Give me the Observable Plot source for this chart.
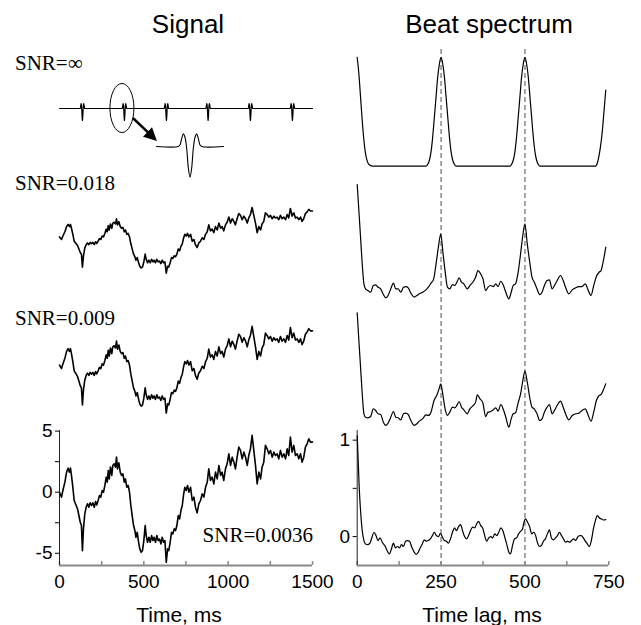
<!DOCTYPE html>
<html><head><meta charset="utf-8">
<script src="https://cdn.jsdelivr.net/npm/d3@7"></script>
<script src="https://cdn.jsdelivr.net/npm/@observablehq/plot@0.6"></script>
<style>
body{margin:0;background:#fff}
#fig{position:relative;width:641px;height:625px;overflow:hidden;background:#fff}
#fig svg{position:absolute;overflow:visible}
.t{position:absolute;white-space:nowrap;line-height:1;color:#000}
.sans{font-family:"Liberation Sans",Arial,sans-serif}
.serif{font-family:"Liberation Serif","Times New Roman",serif}
</style></head><body><div id="fig"></div>
<script>
// ---------- data ----------
const panelTitles = ["Signal", "Beat spectrum"];
const axisLabels = ["Time, ms", "Time lag, ms"];
const snrLabels = ["SNR=\u221E", "SNR=0.018", "SNR=0.009", "SNR=0.0036"];

const timeTicks = [0, 500, 1000, 1500];
const timeMinor = [0, 250, 500, 750, 1000, 1250, 1500];
const sigYTicks = [-5, -2.5, 0, 2.5, 5];
const lagTicks = [0, 250, 500, 750];
const lagMinor = [0, 125, 250, 375, 500, 625, 750];
const beatYTicks = [0, 0.5, 1];
const beatPeriods = [250, 500];

// clean spike train (SNR = infinity)
const spikeTimes = [136, 385, 634, 881, 1132, 1381];
const waveT = [-14, -12, -10, -8, -6, -4, -2, 0, 2, 4, 6, 8, 10, 12, 14];
const waveV = [0, 0.05, 0.25, 0.41, 0.3, -0.05, -0.7, -1, -0.7, -0.05, 0.3, 0.41, 0.25, 0.05, 0];
const circledSpike = 373;

// noisy signal (time ms, value)
const signalNoisy = [
[0,0],[12,-0.41],[20,0.14],[32,0.82],[42,1.64],[51,1.97],[59,1.64],[65,1.97],[71,1.37],[79,0.41],
[87,-0.68],[99,-1.09],[107,-1.37],[115,-1.91],[123,-2.46],[130,-2.73],[136,-4.78],[142,-3.0],[150,-1.77],[158,-1.23],
[166,-0.95],[174,-1.23],[182,-0.87],[190,-1.09],[198,-0.87],[206,-1.23],[214,-0.77],[221,-1.04],[229,-0.68],[237,-0.27],
[245,-0.41],[253,0.14],[261,0],[269,0.55],[277,1.23],[283,0.82],[289,1.78],[295,1.09],[302,2.05],[310,1.37],
[316,2.19],[324,2.32],[332,2.05],[338,2.87],[344,1.91],[352,2.41],[360,1.64],[368,1.37],[376,1.5],[384,0.82],
[391,1.09],[399,0.41],[407,0.55],[415,0],[423,-1.09],[431,-1.91],[439,-2.73],[447,-3.14],[453,-3.69],[461,-3.28],
[469,-4.1],[476,-4.64],[484,-4.92],[492,-4.78],[500,-3.96],[508,-2.73],[514,-3.55],[522,-4.1],[530,-3.69],[538,-4.1],
[546,-3.55],[554,-3.96],[561,-3.69],[569,-4.1],[577,-3.55],[585,-3.96],[593,-3.83],[601,-4.23],[609,-3.69],[617,-4.1],
[625,-3.96],[633,-5.74],[641,-4.64],[648,-4.78],[656,-4.1],[664,-3.28],[672,-3.42],[680,-3.0],[688,-3.14],[696,-2.73],
[704,-1.91],[712,-2.19],[720,-1.5],[728,-1.09],[735,-0.27],[743,0.41],[751,0.14],[759,0.55],[767,0.0],[777,0.41],
[787,-0.68],[797,-0.41],[806,-1.23],[816,-1.69],[826,-0.95],[836,-0.68],[846,-0.14],[856,-0.41],[866,0.41],[876,0.82],
[885,1.91],[895,0.96],[905,1.23],[915,0.68],[925,1.64],[935,1.09],[945,2.19],[955,1.37],[964,1.64],[974,0.96],
[984,1.91],[994,2.32],[1004,3.14],[1014,2.19],[1024,2.87],[1034,2.46],[1043,1.91],[1053,2.87],[1063,3.69],[1073,3.42],
[1083,2.73],[1093,3.28],[1103,2.87],[1113,2.19],[1122,3.0],[1132,3.55],[1142,4.65],[1152,3.42],[1162,2.19],[1172,0.68],
[1182,1.64],[1192,1.09],[1201,2.05],[1211,2.46],[1221,3.83],[1231,3.55],[1241,3.14],[1251,3.42],[1261,2.87],[1271,3.28],
[1280,3.0],[1290,3.14],[1300,2.73],[1310,3.42],[1320,2.87],[1330,3.14],[1340,2.73],[1350,3.55],[1359,3.0],[1369,4.51],
[1379,3.28],[1389,3.83],[1399,3.0],[1409,3.14],[1419,2.73],[1429,3.14],[1438,2.46],[1448,2.87],[1458,3.69],[1468,3.96],
[1478,4.37],[1488,4.1],[1500,4.1]
];

// beat spectra (lag ms, value)
const beatInf = [
[0,1],[5,0.85],[10,0.635],[15,0.42],[20,0.236],[25,0.113],[30,0.046],[35,0.015],[45,0],[205,0],
[210,0.015],[215,0.052],[220,0.129],[225,0.267],[230,0.45],[235,0.635],[240,0.82],[245,0.94],[250,1],[255,0.94],
[260,0.82],[265,0.635],[270,0.45],[275,0.267],[280,0.129],[285,0.052],[290,0.015],[295,0],[455,0],[460,0.015],
[465,0.052],[470,0.129],[475,0.267],[480,0.45],[485,0.635],[490,0.82],[495,0.94],[500,1],[505,0.94],[510,0.82],
[515,0.635],[520,0.45],[525,0.267],[530,0.129],[535,0.052],[540,0.015],[545,0],[710,0],[715,0.02],[720,0.083],
[725,0.175],[730,0.3],[735,0.48],[741,0.70]
];
const beat018 = [
[0,1.0],[5,0.73],[10,0.457],[15,0.18],[20,-0.024],[25,-0.076],[32,-0.093],[40,-0.11],[48,-0.04],[55,-0.034],
[62,-0.058],[70,-0.076],[78,-0.134],[85,-0.168],[92,-0.144],[100,-0.076],[108,-0.017],[115,-0.076],[122,-0.076],[130,-0.11],
[138,-0.058],[145,-0.052],[152,-0.065],[160,-0.12],[170,-0.16],[178,-0.144],[185,-0.127],[195,-0.11],[205,-0.086],[212,-0.058],
[220,-0.017],[228,0.027],[235,0.18],[242,0.354],[249,0.49],[256,0.285],[263,0.079],[269,-0.058],[276,-0.076],[284,-0.031],
[291,-0.041],[297,-0.007],[304,0.038],[311,-0.007],[318,-0.024],[328,-0.076],[336,-0.041],[346,0],[353,0.045],[360,0.113],
[368,0.079],[375,0.027],[383,-0.093],[390,-0.058],[398,-0.041],[406,-0.052],[413,-0.024],[420,-0.052],[428,0.003],[436,-0.041],
[443,-0.11],[452,-0.179],[459,-0.11],[465,-0.041],[472,-0.024],[479,0.079],[487,0.285],[493,0.457],[500,0.594],[507,0.388],
[515,0.182],[521,0.045],[528,-0.007],[536,-0.076],[544,-0.134],[551,-0.11],[558,-0.041],[566,0.01],[573,0.017],[581,-0.076],
[588,-0.041],[596,0.01],[606,0.062],[614,0.01],[621,-0.058],[631,-0.127],[641,-0.086],[651,-0.065],[661,-0.052],[670,-0.052],
[680,-0.024],[687,-0.076],[697,-0.144],[705,-0.041],[713,0.052],[721,0.096],[727,0.113],[733,0.2],[741,0.354]
];
const beat009 = [
[0,1.0],[5,0.715],[10,0.44],[15,0.165],[20,-0.041],[25,-0.076],[32,-0.082],[40,-0.069],[48,0.01],[55,-0.007],
[62,-0.041],[70,-0.048],[78,-0.127],[85,-0.16],[92,-0.137],[100,-0.076],[108,-0.017],[115,-0.076],[122,-0.082],[130,-0.103],
[138,-0.041],[145,-0.034],[152,-0.048],[160,-0.11],[170,-0.16],[178,-0.144],[185,-0.117],[195,-0.093],[205,-0.052],[212,-0.058],
[220,-0.024],[229,0.096],[237,0.148],[244,0.216],[249,0.268],[255,0.165],[261,0.027],[269,-0.058],[276,-0.024],[284,0.027],
[291,0.021],[297,0.045],[304,0.086],[311,0.027],[318,0],[328,-0.041],[336,0.01],[346,0.045],[353,0.079],[358,0.155],
[366,0.113],[374,0.079],[383,-0.069],[390,-0.024],[398,-0.017],[406,0],[413,0.021],[420,-0.014],[428,0.055],[436,0],
[443,-0.076],[452,-0.179],[459,-0.093],[465,-0.041],[472,-0.031],[479,0.062],[487,0.165],[493,0.285],[500,0.399],[507,0.285],
[515,0.113],[521,0.027],[528,0.01],[536,-0.041],[544,-0.11],[551,-0.093],[558,-0.024],[566,0.027],[573,0.055],[581,-0.041],
[588,-0.007],[596,0.045],[606,0.089],[614,0.027],[621,-0.041],[631,-0.103],[641,-0.058],[651,-0.041],[661,-0.034],[670,-0.007],
[680,0.01],[687,-0.041],[697,-0.117],[705,-0.024],[713,0.096],[721,0.148],[727,0.158],[733,0.2],[741,0.268]
];
const beat0036 = [
[0,1.045],[3,0.786],[6,0.51],[10,0.27],[15,0.062],[20,-0.041],[25,-0.076],[32,-0.083],[38,-0.069],[44,-0.007],
[50,0.045],[56,0.01],[62,-0.041],[68,-0.014],[75,-0.059],[82,-0.093],[90,-0.152],[96,-0.179],[102,-0.128],[108,-0.069],
[114,-0.117],[120,-0.103],[126,-0.117],[132,-0.083],[138,-0.103],[144,-0.048],[150,-0.041],[156,-0.048],[162,-0.103],[170,-0.162],
[176,-0.186],[182,-0.162],[188,-0.117],[194,-0.076],[200,-0.034],[206,-0.048],[212,-0.041],[218,-0.024],[224,0.01],[230,0.045],
[236,0.01],[242,0],[248,0.034],[254,-0.007],[260,-0.041],[266,-0.048],[272,-0.069],[278,-0.024],[284,0.045],[290,0.09],
[296,0.062],[302,0.103],[308,0.124],[314,0.062],[320,0],[326,-0.024],[332,0.01],[338,0.062],[344,0.097],[350,0.09],
[356,0.131],[362,0.159],[368,0.114],[374,0.09],[380,0.01],[386,-0.048],[392,-0.014],[398,0],[404,-0.014],[410,0.028],
[416,0.01],[422,0.045],[428,0.09],[434,0.062],[440,-0.007],[446,-0.083],[452,-0.162],[457,-0.179],[463,-0.093],[469,-0.024],
[475,-0.014],[481,0.028],[487,0.055],[493,0.079],[496,0.131],[502,0.183],[508,0.148],[514,0.103],[520,0.028],[526,0.045],
[532,0.01],[537,-0.059],[543,-0.103],[549,-0.093],[555,-0.048],[561,-0.024],[567,0.028],[573,0.069],[579,-0.014],[585,-0.034],
[591,-0.014],[597,0.01],[603,0.045],[609,0.01],[615,-0.024],[621,-0.059],[627,-0.048],[633,-0.059],[639,-0.041],[645,-0.024],
[651,-0.041],[657,-0.007],[663,0.01],[668,0.01],[674,-0.014],[680,-0.048],[686,-0.076],[692,-0.103],[698,-0.041],[704,0.079],
[710,0.166],[716,0.217],[722,0.193],[728,0.183],[734,0.172],[741,0.176]
];

// ---------- layout helpers ----------
const fig = document.getElementById("fig");
const FONT = '"Liberation Sans", Arial, sans-serif';
function opts(w, h, [mt, mr, mb, ml]) {
  return {width: w, height: h, marginTop: mt, marginRight: mr, marginBottom: mb, marginLeft: ml,
    style: {background: "transparent", fontFamily: FONT, fontSize: "19px", color: "#000", overflow: "visible"}};
}
function place(svg, left, top) {
  svg.style.position = "absolute"; svg.style.left = left + "px"; svg.style.top = top + "px";
  svg.style.maxWidth = "none";
  fig.appendChild(svg); return svg;
}
function text(str, cls, size, left, top, align) {
  const d = document.createElement("div");
  d.className = "t " + cls; d.textContent = str;
  d.style.fontSize = size + "px"; d.style.left = left + "px"; d.style.top = top + "px";
  if (align === "middle") d.style.transform = "translateX(-50%)";
  if (align === "end") d.style.transform = "translateX(-100%)";
  fig.appendChild(d);
}
const X = d => d[0], Y = d => d[1];
const LEFT_M = [23, 59];
const RIGHT_M = [31.7, 36.7];
const SIG_W = 1.6;

// ---------- dashed period rules (behind right column) ----------
place(Plot.plot({...opts(320, 516, [0, RIGHT_M[0], 0, RIGHT_M[1]]),
  x: {domain: [0, 750], axis: null},
  marks: [Plot.ruleX(beatPeriods, {stroke: "#8a8a8a", strokeWidth: 1.5, strokeDasharray: "5,3"})]
}), 320, 49);

// ---------- left column ----------
const cleanLine = [[0, 0]];
spikeTimes.forEach(c => waveT.forEach((o, i) => cleanLine.push([c + o, waveV[i]])));
cleanLine.push([1500, 0]);
const l1 = place(Plot.plot({...opts(335, 75, [0, LEFT_M[0], 0, LEFT_M[1]]),
  x: {domain: [0, 1500], axis: null}, y: {domain: [-2.25, 4], axis: null},
  marks: [Plot.line(cleanLine, {x: X, y: Y, stroke: "#000", strokeWidth: 1.2})]
}), 0, 60);
{
  const cx = l1.scale("x").apply(circledSpike), cy = l1.scale("y").apply(0);
  const g = d3.select(l1).append("g");
  g.append("ellipse").attr("cx", cx).attr("cy", cy).attr("rx", 12).attr("ry", 24.5)
    .attr("fill", "none").attr("stroke", "#000").attr("stroke-width", 1);
  const x0 = cx + 11, y0 = cy + 10, x1 = cx + 35, y1 = cy + 33;
  const L = Math.hypot(x1 - x0, y1 - y0), ux = (x1 - x0) / L, uy = (y1 - y0) / L;
  const hl = 13, hw = 6.5, bx = x1 - hl * ux, by = y1 - hl * uy;
  g.append("line").attr("x1", x0).attr("y1", y0).attr("x2", bx + ux).attr("y2", by + uy)
    .attr("stroke", "#000").attr("stroke-width", 2.5);
  g.append("path").attr("d", `M${x1},${y1}L${bx - hw * uy},${by + hw * ux}L${bx + hw * uy},${by - hw * ux}Z`)
    .attr("fill", "#000");
}
const insetLine = [[-40, 0], ...waveT.map((t, i) => [t, waveV[i]]), [40, 0]];
place(Plot.plot({...opts(67, 60, [0, 0, 0, 0]),
  x: {domain: [-40, 40], axis: null}, y: {domain: [-1.27, 0.684], axis: null},
  marks: [Plot.line(insetLine, {x: X, y: Y, stroke: "#000", strokeWidth: 1.1, curve: "catmull-rom"})]
}), 156, 125);

place(Plot.plot({...opts(335, 90, [0, LEFT_M[0], 0, LEFT_M[1]]),
  x: {domain: [0, 1500], axis: null}, y: {domain: [-7.70, 6.56], axis: null},
  marks: [Plot.line(signalNoisy, {x: X, y: Y, stroke: "#000", strokeWidth: SIG_W})]
}), 0, 195);
place(Plot.plot({...opts(335, 110, [0, LEFT_M[0], 0, LEFT_M[1]]),
  x: {domain: [0, 1500], axis: null}, y: {domain: [-7.23, 5.94], axis: null},
  marks: [Plot.line(signalNoisy, {x: X, y: Y, stroke: "#000", strokeWidth: SIG_W})]
}), 0, 315);
place(Plot.plot({...opts(335, 175, [5, LEFT_M[0], 35, LEFT_M[1]]),
  x: {domain: [0, 1500]}, y: {domain: [-6, 5.05]},
  marks: [
    Plot.ruleX(timeMinor, {insetTop: 131, stroke: "#888", strokeWidth: 1.5}),
    Plot.ruleY([-6], {stroke: "#888", strokeWidth: 2}),
    Plot.ruleX([0], {stroke: "#222", strokeWidth: 1}),
    Plot.axisY({ticks: sigYTicks, tickSize: 4, tickPadding: 3, label: null,
      tickFormat: d => Number.isInteger(d) ? String(d) : ""}),
    Plot.axisX({ticks: timeTicks, tickSize: 0, tickPadding: 9, label: null, tickFormat: d => String(d)}),
    Plot.line(signalNoisy, {x: X, y: Y, stroke: "#000", strokeWidth: SIG_W})
  ]
}), 0, 425);

// ---------- right column ----------
place(Plot.plot({...opts(320, 125, [0, RIGHT_M[0], 0, RIGHT_M[1]]),
  x: {domain: [0, 750], axis: null}, y: {domain: [-0.086, 1.064], axis: null},
  marks: [Plot.line(beatInf, {x: X, y: Y, stroke: "#000", strokeWidth: 1.2, curve: "monotone-x"})]
}), 320, 50);
place(Plot.plot({...opts(320, 130, [0, RIGHT_M[0], 0, RIGHT_M[1]]),
  x: {domain: [0, 750], axis: null}, y: {domain: [-0.247, 1.093], axis: null},
  marks: [Plot.line(beat018, {x: X, y: Y, stroke: "#000", strokeWidth: 1.2, curve: "monotone-x"})]
}), 320, 175);
place(Plot.plot({...opts(320, 125, [0, RIGHT_M[0], 0, RIGHT_M[1]]),
  x: {domain: [0, 750], axis: null}, y: {domain: [-0.213, 1.075], axis: null},
  marks: [Plot.line(beat009, {x: X, y: Y, stroke: "#000", strokeWidth: 1.2, curve: "monotone-x"})]
}), 320, 305);
place(Plot.plot({...opts(320, 175, [5, RIGHT_M[0], 35, RIGHT_M[1]]),
  x: {domain: [0, 750]}, y: {domain: [-0.3, 1.1]},
  marks: [
    Plot.ruleX(lagMinor, {insetTop: 131, stroke: "#888", strokeWidth: 1.5}),
    Plot.ruleY([-0.3], {stroke: "#888", strokeWidth: 2}),
    Plot.ruleX([0], {stroke: "#222", strokeWidth: 1}),
    Plot.axisY({ticks: beatYTicks, tickSize: 4, tickPadding: 3, label: null,
      tickFormat: d => d === 0.5 ? "" : String(d)}),
    Plot.axisX({ticks: lagTicks, tickSize: 0, tickPadding: 9, label: null, tickFormat: d => String(d)}),
    Plot.line(beat0036, {x: X, y: Y, stroke: "#000", strokeWidth: 1.2, curve: "monotone-x"})
  ]
}), 320, 425);

// ---------- text ----------
text(panelTitles[0], "sans", 26, 188, 11.3, "middle");
text(panelTitles[1], "sans", 26, 489, 11.3, "middle");
text(axisLabels[0], "sans", 21, 179, 604, "middle");
text(axisLabels[1], "sans", 21, 482, 604, "middle");
text(snrLabels[0], "serif", 21, 15, 53, "start");
text(snrLabels[1], "serif", 21, 15, 173, "start");
text(snrLabels[2], "serif", 21, 15, 308.4, "start");
text(snrLabels[3], "serif", 21, 313, 525, "end");
</script></body></html>
